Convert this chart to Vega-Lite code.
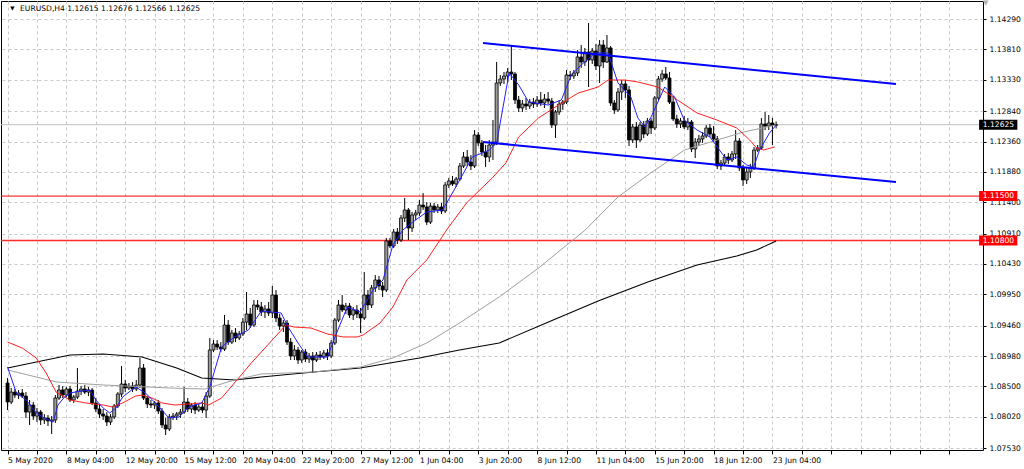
{
"$schema":"https://vega.github.io/schema/vega-lite/v6.json",
"autosize":{"type":"none"},
"padding":{"left":1,"top":1,"right":41,"bottom":19},
"width":982,"height":449,
"background":"#ffffff",
"config":{"view":{"stroke":"#000000","strokeWidth":1},"font":"DejaVu Sans"},
"datasets":{
"candles":[
{"i":0,"o":1.08555,"h":1.08634,"l":1.08129,"c":1.08255},{"i":1,"o":1.08255,"h":1.08476,"l":1.08224,"c":1.08412},{"i":2,"o":1.08412,"h":1.0846,"l":1.08318,"c":1.08365},{"i":3,"o":1.08365,"h":1.08444,"l":1.08302,"c":1.08397},{"i":4,"o":1.08397,"h":1.0846,"l":1.08318,"c":1.08349},{"i":5,"o":1.08349,"h":1.08412,"l":1.08003,"c":1.08097},{"i":6,"o":1.08097,"h":1.08287,"l":1.07893,"c":1.08208},{"i":7,"o":1.08208,"h":1.08255,"l":1.07972,"c":1.08034},{"i":8,"o":1.08034,"h":1.08161,"l":1.0794,"c":1.08097},{"i":9,"o":1.08097,"h":1.08129,"l":1.07893,"c":1.07972},
{"i":10,"o":1.07972,"h":1.08066,"l":1.07909,"c":1.08003},{"i":11,"o":1.08003,"h":1.0805,"l":1.07877,"c":1.07956},{"i":12,"o":1.07956,"h":1.08034,"l":1.07751,"c":1.07972},{"i":13,"o":1.07972,"h":1.08365,"l":1.07925,"c":1.08318},{"i":14,"o":1.08318,"h":1.08523,"l":1.08287,"c":1.08444},{"i":15,"o":1.08444,"h":1.08507,"l":1.08318,"c":1.08365},{"i":16,"o":1.08365,"h":1.08492,"l":1.08334,"c":1.0846},{"i":17,"o":1.0846,"h":1.08507,"l":1.08255,"c":1.08287},{"i":18,"o":1.08287,"h":1.08365,"l":1.0824,"c":1.08334},{"i":19,"o":1.08334,"h":1.08791,"l":1.08302,"c":1.08428},
{"i":20,"o":1.08428,"h":1.08507,"l":1.08365,"c":1.0846},{"i":21,"o":1.0846,"h":1.08523,"l":1.08381,"c":1.08412},{"i":22,"o":1.08412,"h":1.08492,"l":1.08349,"c":1.08444},{"i":23,"o":1.08444,"h":1.08476,"l":1.08208,"c":1.0824},{"i":24,"o":1.0824,"h":1.08318,"l":1.08097,"c":1.08145},{"i":25,"o":1.08145,"h":1.08224,"l":1.08003,"c":1.08066},{"i":26,"o":1.08066,"h":1.08145,"l":1.07972,"c":1.08034},{"i":27,"o":1.08034,"h":1.08097,"l":1.07877,"c":1.0794},{"i":28,"o":1.0794,"h":1.08066,"l":1.07893,"c":1.08019},{"i":29,"o":1.08019,"h":1.08224,"l":1.07987,"c":1.08192},
{"i":30,"o":1.08192,"h":1.08412,"l":1.08161,"c":1.08381},{"i":31,"o":1.08381,"h":1.08823,"l":1.08334,"c":1.08539},{"i":32,"o":1.08539,"h":1.08602,"l":1.08412,"c":1.08476},{"i":33,"o":1.08476,"h":1.08555,"l":1.08444,"c":1.08507},{"i":34,"o":1.08507,"h":1.0857,"l":1.08412,"c":1.0846},{"i":35,"o":1.0846,"h":1.08602,"l":1.08428,"c":1.08523},{"i":36,"o":1.08523,"h":1.08949,"l":1.08476,"c":1.08791},{"i":37,"o":1.08791,"h":1.08854,"l":1.08287,"c":1.08318},{"i":38,"o":1.08318,"h":1.08349,"l":1.08161,"c":1.08224},{"i":39,"o":1.08224,"h":1.08287,"l":1.08161,"c":1.08208},
{"i":40,"o":1.08208,"h":1.08271,"l":1.08145,"c":1.0824},{"i":41,"o":1.0824,"h":1.08287,"l":1.08066,"c":1.08113},{"i":42,"o":1.08113,"h":1.08161,"l":1.07846,"c":1.07893},{"i":43,"o":1.07893,"h":1.08003,"l":1.07735,"c":1.0783},{"i":44,"o":1.0783,"h":1.08066,"l":1.07798,"c":1.08019},{"i":45,"o":1.08019,"h":1.08082,"l":1.07972,"c":1.08034},{"i":46,"o":1.08034,"h":1.08097,"l":1.07972,"c":1.08066},{"i":47,"o":1.08066,"h":1.08145,"l":1.08003,"c":1.08097},{"i":48,"o":1.08097,"h":1.08492,"l":1.08066,"c":1.08255},{"i":49,"o":1.08255,"h":1.08318,"l":1.08097,"c":1.08145},
{"i":50,"o":1.08145,"h":1.0824,"l":1.08082,"c":1.08208},{"i":51,"o":1.08208,"h":1.08255,"l":1.08066,"c":1.08129},{"i":52,"o":1.08129,"h":1.08224,"l":1.08097,"c":1.08177},{"i":53,"o":1.08177,"h":1.08255,"l":1.08082,"c":1.08129},{"i":54,"o":1.08129,"h":1.08412,"l":1.08003,"c":1.08349},{"i":55,"o":1.08349,"h":1.09264,"l":1.08318,"c":1.09075},{"i":56,"o":1.09075,"h":1.09232,"l":1.09043,"c":1.09169},{"i":57,"o":1.09169,"h":1.09232,"l":1.09075,"c":1.09122},{"i":58,"o":1.09122,"h":1.092,"l":1.09043,"c":1.0909},{"i":59,"o":1.0909,"h":1.09626,"l":1.09059,"c":1.09468},
{"i":60,"o":1.09468,"h":1.09547,"l":1.09153,"c":1.092},{"i":61,"o":1.092,"h":1.0939,"l":1.09169,"c":1.09343},{"i":62,"o":1.09343,"h":1.09421,"l":1.092,"c":1.09264},{"i":63,"o":1.09264,"h":1.09374,"l":1.09232,"c":1.09327},{"i":64,"o":1.09327,"h":1.09579,"l":1.09295,"c":1.09515},{"i":65,"o":1.09515,"h":1.09988,"l":1.0939,"c":1.09642},{"i":66,"o":1.09642,"h":1.09737,"l":1.09421,"c":1.09468},{"i":67,"o":1.09468,"h":1.09863,"l":1.09437,"c":1.09784},{"i":68,"o":1.09784,"h":1.09863,"l":1.09705,"c":1.09753},{"i":69,"o":1.09753,"h":1.09831,"l":1.0961,"c":1.09673},
{"i":70,"o":1.09673,"h":1.09784,"l":1.09579,"c":1.09721},{"i":71,"o":1.09721,"h":1.09831,"l":1.0961,"c":1.09658},{"i":72,"o":1.09658,"h":1.10083,"l":1.09579,"c":1.09941},{"i":73,"o":1.09941,"h":1.1002,"l":1.09515,"c":1.09579},{"i":74,"o":1.09579,"h":1.09642,"l":1.0939,"c":1.09452},{"i":75,"o":1.09452,"h":1.09547,"l":1.09358,"c":1.095},{"i":76,"o":1.095,"h":1.09547,"l":1.09153,"c":1.092},{"i":77,"o":1.092,"h":1.09264,"l":1.08917,"c":1.0898},{"i":78,"o":1.0898,"h":1.09153,"l":1.08917,"c":1.09075},{"i":79,"o":1.09075,"h":1.09122,"l":1.08854,"c":1.08917},
{"i":80,"o":1.08917,"h":1.09075,"l":1.0887,"c":1.09043},{"i":81,"o":1.09043,"h":1.0909,"l":1.08885,"c":1.08933},{"i":82,"o":1.08933,"h":1.09028,"l":1.0887,"c":1.0898},{"i":83,"o":1.0898,"h":1.09043,"l":1.08713,"c":1.08917},{"i":84,"o":1.08917,"h":1.09043,"l":1.08885,"c":1.08996},{"i":85,"o":1.08996,"h":1.09059,"l":1.08917,"c":1.08965},{"i":86,"o":1.08965,"h":1.09075,"l":1.08933,"c":1.09028},{"i":87,"o":1.09028,"h":1.0909,"l":1.08917,"c":1.0898},{"i":88,"o":1.0898,"h":1.09232,"l":1.08949,"c":1.09185},{"i":89,"o":1.09185,"h":1.09579,"l":1.09153,"c":1.09547},
{"i":90,"o":1.09547,"h":1.09863,"l":1.09515,"c":1.09784},{"i":91,"o":1.09784,"h":1.09941,"l":1.09673,"c":1.09705},{"i":92,"o":1.09705,"h":1.09816,"l":1.09642,"c":1.09768},{"i":93,"o":1.09768,"h":1.09816,"l":1.09579,"c":1.09626},{"i":94,"o":1.09626,"h":1.09753,"l":1.09547,"c":1.09705},{"i":95,"o":1.09705,"h":1.09784,"l":1.09579,"c":1.09642},{"i":96,"o":1.09642,"h":1.09737,"l":1.09343,"c":1.09579},{"i":97,"o":1.09579,"h":1.10304,"l":1.09547,"c":1.09941},{"i":98,"o":1.09941,"h":1.1002,"l":1.09705,"c":1.09784},{"i":99,"o":1.09784,"h":1.10099,"l":1.09737,"c":1.10052},
{"i":100,"o":1.10052,"h":1.10256,"l":1.09988,"c":1.10178},{"i":101,"o":1.10178,"h":1.10241,"l":1.1002,"c":1.10083},{"i":102,"o":1.10083,"h":1.10146,"l":1.0991,"c":1.1002},{"i":103,"o":1.1002,"h":1.1084,"l":1.09988,"c":1.10792},{"i":104,"o":1.10792,"h":1.1084,"l":1.10682,"c":1.10713},{"i":105,"o":1.10713,"h":1.10982,"l":1.10682,"c":1.10934},{"i":106,"o":1.10934,"h":1.10997,"l":1.10745,"c":1.10808},{"i":107,"o":1.10808,"h":1.11202,"l":1.10776,"c":1.11155},{"i":108,"o":1.11155,"h":1.1147,"l":1.11091,"c":1.11281},{"i":109,"o":1.11281,"h":1.11312,"l":1.10808,"c":1.10997},
{"i":110,"o":1.10997,"h":1.11249,"l":1.10934,"c":1.11202},{"i":111,"o":1.11202,"h":1.11281,"l":1.11123,"c":1.11234},{"i":112,"o":1.11234,"h":1.11438,"l":1.11186,"c":1.11359},{"i":113,"o":1.11359,"h":1.11549,"l":1.11281,"c":1.11328},{"i":114,"o":1.11328,"h":1.11406,"l":1.11044,"c":1.11091},{"i":115,"o":1.11091,"h":1.11391,"l":1.1106,"c":1.11343},{"i":116,"o":1.11343,"h":1.11391,"l":1.11234,"c":1.11281},{"i":117,"o":1.11281,"h":1.11375,"l":1.11234,"c":1.11328},{"i":118,"o":1.11328,"h":1.11391,"l":1.11218,"c":1.11265},{"i":119,"o":1.11265,"h":1.11722,"l":1.11234,"c":1.11675},
{"i":120,"o":1.11675,"h":1.11785,"l":1.11628,"c":1.11738},{"i":121,"o":1.11738,"h":1.11816,"l":1.11659,"c":1.11691},{"i":122,"o":1.11691,"h":1.11801,"l":1.11644,"c":1.11769},{"i":123,"o":1.11769,"h":1.12021,"l":1.11738,"c":1.11974},{"i":124,"o":1.11974,"h":1.12194,"l":1.11943,"c":1.12116},{"i":125,"o":1.12116,"h":1.12226,"l":1.11974,"c":1.12037},{"i":126,"o":1.12037,"h":1.12147,"l":1.11911,"c":1.11974},{"i":127,"o":1.11974,"h":1.12541,"l":1.11943,"c":1.12463},{"i":128,"o":1.12463,"h":1.1251,"l":1.12289,"c":1.12337},{"i":129,"o":1.12337,"h":1.12384,"l":1.12132,"c":1.12194},
{"i":130,"o":1.12194,"h":1.12305,"l":1.11959,"c":1.12116},{"i":131,"o":1.12116,"h":1.12384,"l":1.12037,"c":1.12305},{"i":132,"o":1.12305,"h":1.12699,"l":1.12069,"c":1.12352},{"i":133,"o":1.12352,"h":1.13613,"l":1.12305,"c":1.13282},{"i":134,"o":1.13282,"h":1.13408,"l":1.13235,"c":1.13345},{"i":135,"o":1.13345,"h":1.13455,"l":1.13266,"c":1.13392},{"i":136,"o":1.13392,"h":1.13519,"l":1.13298,"c":1.13455},{"i":137,"o":1.13455,"h":1.13881,"l":1.13329,"c":1.13424},{"i":138,"o":1.13424,"h":1.13455,"l":1.12951,"c":1.13014},{"i":139,"o":1.13014,"h":1.13077,"l":1.12825,"c":1.12888},
{"i":140,"o":1.12888,"h":1.13014,"l":1.12825,"c":1.12951},{"i":141,"o":1.12951,"h":1.13046,"l":1.12857,"c":1.12919},{"i":142,"o":1.12919,"h":1.1303,"l":1.12872,"c":1.12982},{"i":143,"o":1.12982,"h":1.13046,"l":1.12888,"c":1.12951},{"i":144,"o":1.12951,"h":1.13077,"l":1.12904,"c":1.13014},{"i":145,"o":1.13014,"h":1.1314,"l":1.12919,"c":1.12967},{"i":146,"o":1.12967,"h":1.13109,"l":1.12888,"c":1.1303},{"i":147,"o":1.1303,"h":1.1314,"l":1.12951,"c":1.12998},{"i":148,"o":1.12998,"h":1.13046,"l":1.12573,"c":1.1262},{"i":149,"o":1.1262,"h":1.12857,"l":1.12415,"c":1.12825},
{"i":150,"o":1.12825,"h":1.13014,"l":1.12778,"c":1.12951},{"i":151,"o":1.12951,"h":1.13014,"l":1.12857,"c":1.12982},{"i":152,"o":1.12982,"h":1.13487,"l":1.12951,"c":1.13408},{"i":153,"o":1.13408,"h":1.13471,"l":1.13329,"c":1.13392},{"i":154,"o":1.13392,"h":1.13487,"l":1.13345,"c":1.1344},{"i":155,"o":1.1344,"h":1.13802,"l":1.13392,"c":1.13692},{"i":156,"o":1.13692,"h":1.13881,"l":1.13519,"c":1.13613},{"i":157,"o":1.13613,"h":1.13834,"l":1.1355,"c":1.1377},{"i":158,"o":1.1377,"h":1.14228,"l":1.13219,"c":1.13645},{"i":159,"o":1.13645,"h":1.13834,"l":1.13582,"c":1.13786},
{"i":160,"o":1.13786,"h":1.13897,"l":1.13487,"c":1.1355},{"i":161,"o":1.1355,"h":1.1396,"l":1.13282,"c":1.13881},{"i":162,"o":1.13881,"h":1.1396,"l":1.13519,"c":1.13613},{"i":163,"o":1.13613,"h":1.14038,"l":1.13597,"c":1.13834},{"i":164,"o":1.13834,"h":1.13865,"l":1.12919,"c":1.12967},{"i":165,"o":1.12967,"h":1.13014,"l":1.12794,"c":1.12857},{"i":166,"o":1.12857,"h":1.13203,"l":1.12825,"c":1.1314},{"i":167,"o":1.1314,"h":1.13329,"l":1.13014,"c":1.13266},{"i":168,"o":1.13266,"h":1.13329,"l":1.13046,"c":1.13172},{"i":169,"o":1.13172,"h":1.13235,"l":1.12289,"c":1.12384},
{"i":170,"o":1.12384,"h":1.12636,"l":1.12337,"c":1.12589},{"i":171,"o":1.12589,"h":1.12667,"l":1.12258,"c":1.12384},{"i":172,"o":1.12384,"h":1.12667,"l":1.12352,"c":1.1262},{"i":173,"o":1.1262,"h":1.12683,"l":1.12415,"c":1.12478},{"i":174,"o":1.12478,"h":1.1273,"l":1.12447,"c":1.12683},{"i":175,"o":1.12683,"h":1.1273,"l":1.12478,"c":1.12573},{"i":176,"o":1.12573,"h":1.13077,"l":1.12541,"c":1.13046},{"i":177,"o":1.13046,"h":1.13392,"l":1.13014,"c":1.13345},{"i":178,"o":1.13345,"h":1.13487,"l":1.13298,"c":1.13424},{"i":179,"o":1.13424,"h":1.13534,"l":1.13329,"c":1.13361},
{"i":180,"o":1.13361,"h":1.13455,"l":1.12951,"c":1.12982},{"i":181,"o":1.12982,"h":1.13077,"l":1.12683,"c":1.12715},{"i":182,"o":1.12715,"h":1.12778,"l":1.12573,"c":1.12636},{"i":183,"o":1.12636,"h":1.1273,"l":1.12573,"c":1.12683},{"i":184,"o":1.12683,"h":1.12762,"l":1.12557,"c":1.12589},{"i":185,"o":1.12589,"h":1.1273,"l":1.12541,"c":1.12667},{"i":186,"o":1.12667,"h":1.12699,"l":1.12194,"c":1.12242},{"i":187,"o":1.12242,"h":1.12415,"l":1.121,"c":1.12352},{"i":188,"o":1.12352,"h":1.12463,"l":1.12289,"c":1.124},{"i":189,"o":1.124,"h":1.1251,"l":1.12337,"c":1.12447},
{"i":190,"o":1.12447,"h":1.1262,"l":1.12415,"c":1.12573},{"i":191,"o":1.12573,"h":1.12636,"l":1.12431,"c":1.12478},{"i":192,"o":1.12478,"h":1.12604,"l":1.12352,"c":1.124},{"i":193,"o":1.124,"h":1.12447,"l":1.11927,"c":1.11974},{"i":194,"o":1.11974,"h":1.12069,"l":1.11911,"c":1.12021},{"i":195,"o":1.12021,"h":1.12163,"l":1.11974,"c":1.12116},{"i":196,"o":1.12116,"h":1.12179,"l":1.12006,"c":1.12069},{"i":197,"o":1.12069,"h":1.1221,"l":1.12037,"c":1.12163},{"i":198,"o":1.12163,"h":1.12541,"l":1.12084,"c":1.12368},{"i":199,"o":1.12368,"h":1.12415,"l":1.11895,"c":1.11943},
{"i":200,"o":1.11943,"h":1.1199,"l":1.11659,"c":1.11754},{"i":201,"o":1.11754,"h":1.11943,"l":1.11691,"c":1.1188},{"i":202,"o":1.1188,"h":1.12006,"l":1.11785,"c":1.11943},{"i":203,"o":1.11943,"h":1.12273,"l":1.11911,"c":1.12226},{"i":204,"o":1.12226,"h":1.12305,"l":1.12194,"c":1.12258},{"i":205,"o":1.12258,"h":1.1273,"l":1.12226,"c":1.12636},{"i":206,"o":1.12636,"h":1.12825,"l":1.12541,"c":1.12604},{"i":207,"o":1.12604,"h":1.12778,"l":1.12541,"c":1.12652},{"i":208,"o":1.12652,"h":1.1273,"l":1.12305,"c":1.12615},{"i":209,"o":1.12615,"h":1.12676,"l":1.12566,"c":1.12625}
],
"blue":[
{"i":0,"p":1.08807},{"i":2.4,"p":1.08397},{"i":5.1,"p":1.08287},{"i":7.8,"p":1.08082},{"i":10,"p":1.08003},{"i":12.4,"p":1.0794},{"i":13.7,"p":1.08208},{"i":15.5,"p":1.08334},{"i":17,"p":1.08397},{"i":20,"p":1.08428},{"i":22.4,"p":1.08444},{"i":24,"p":1.08287},{"i":26,"p":1.08161},{"i":27.8,"p":1.08082},{"i":29.5,"p":1.08161},{"i":31.3,"p":1.08334},{"i":34.8,"p":1.08492},{"i":37.5,"p":1.08397},{"i":40.2,"p":1.0824},{"i":43.9,"p":1.08003},{"i":46.6,"p":1.08019},{"i":49.3,"p":1.08177},{"i":52.8,"p":1.0824},{"i":55,"p":1.08492},{"i":58.2,"p":1.09122},{"i":61.7,"p":1.0928},{"i":65.5,"p":1.0939},{"i":69,"p":1.09689},{"i":74.4,"p":1.09658},{"i":76.3,"p":1.09437},{"i":79,"p":1.09185},{"i":81.6,"p":1.08965},{"i":87,"p":1.08965},{"i":88.7,"p":1.09232},{"i":92.4,"p":1.09753},{"i":95.9,"p":1.09673},{"i":99.4,"p":1.1002},{"i":102.1,"p":1.10178},{"i":104.8,"p":1.10729},{"i":107.5,"p":1.10966},{"i":110.2,"p":1.11091},{"i":114,"p":1.11249},{"i":118.3,"p":1.11281},{"i":120.2,"p":1.1147},{"i":122.5,"p":1.11706},{"i":126.4,"p":1.12116},{"i":131,"p":1.12226},{"i":133,"p":1.12337},{"i":136.4,"p":1.1344},{"i":139,"p":1.13251},{"i":141.7,"p":1.12982},{"i":147,"p":1.12935},{"i":150.6,"p":1.13014},{"i":153.3,"p":1.13408},{"i":156,"p":1.13566},{"i":159.8,"p":1.13755},{"i":163.3,"p":1.13755},{"i":166,"p":1.13282},{"i":169.5,"p":1.13061},{"i":171.4,"p":1.12731},{"i":173.3,"p":1.12589},{"i":175,"p":1.12746},{"i":178.7,"p":1.13219},{"i":181.4,"p":1.13061},{"i":184,"p":1.12699},{"i":187.5,"p":1.12541},{"i":191,"p":1.12431},{"i":193,"p":1.12273},{"i":195.6,"p":1.12069},{"i":198.3,"p":1.12116},{"i":201,"p":1.1199},{"i":202.9,"p":1.11959},{"i":204.5,"p":1.12226},{"i":207.2,"p":1.12494},{"i":209,"p":1.1262}
],
"red":[
{"i":0,"p":1.092},{"i":4,"p":1.09106},{"i":7.8,"p":1.08949},{"i":10.5,"p":1.08712},{"i":13.2,"p":1.08412},{"i":17,"p":1.08287},{"i":21.3,"p":1.0824},{"i":26,"p":1.08208},{"i":28.5,"p":1.08177},{"i":31.3,"p":1.0824},{"i":34.8,"p":1.08349},{"i":36.6,"p":1.08365},{"i":39.3,"p":1.08318},{"i":42,"p":1.0824},{"i":45.5,"p":1.08208},{"i":52.8,"p":1.0824},{"i":54.7,"p":1.08208},{"i":58.2,"p":1.08318},{"i":61.7,"p":1.08555},{"i":66.3,"p":1.0887},{"i":69,"p":1.09043},{"i":75.7,"p":1.09468},{"i":77.9,"p":1.09437},{"i":82.5,"p":1.09421},{"i":87,"p":1.09327},{"i":91.3,"p":1.0928},{"i":95.1,"p":1.0928},{"i":96.7,"p":1.09311},{"i":98.6,"p":1.0939},{"i":101.3,"p":1.095},{"i":104.8,"p":1.09753},{"i":108.6,"p":1.10178},{"i":114,"p":1.10493},{"i":119.4,"p":1.10966},{"i":124.8,"p":1.11391},{"i":129,"p":1.11628},{"i":131.8,"p":1.11785},{"i":135.5,"p":1.12021},{"i":139,"p":1.12431},{"i":144.4,"p":1.12731},{"i":149.8,"p":1.12935},{"i":155.2,"p":1.13124},{"i":160.6,"p":1.13219},{"i":163.3,"p":1.13329},{"i":167.9,"p":1.13329},{"i":171.4,"p":1.13298},{"i":176.8,"p":1.13219},{"i":182.2,"p":1.13014},{"i":187.5,"p":1.12809},{"i":192.9,"p":1.12699},{"i":198.3,"p":1.12573},{"i":201.8,"p":1.12384},{"i":203.7,"p":1.12258},{"i":205.6,"p":1.12226},{"i":208.6,"p":1.12274}
],
"gray":[
{"i":0,"p":1.0876},{"i":13.4,"p":1.0857},{"i":26,"p":1.08523},{"i":44,"p":1.08476},{"i":53.6,"p":1.0846},{"i":61.7,"p":1.08602},{"i":69,"p":1.08697},{"i":83.3,"p":1.08728},{"i":95.9,"p":1.08807},{"i":104.8,"p":1.08949},{"i":114,"p":1.09185},{"i":122.9,"p":1.095},{"i":133.7,"p":1.0991},{"i":144.4,"p":1.10367},{"i":157.1,"p":1.10966},{"i":166,"p":1.11486},{"i":174.9,"p":1.11864},{"i":184.1,"p":1.12226},{"i":193,"p":1.12384},{"i":200.2,"p":1.1251},{"i":209,"p":1.1262}
],
"black":[
{"i":0,"p":1.08791},{"i":17,"p":1.08996},{"i":26,"p":1.09012},{"i":36.6,"p":1.08965},{"i":46,"p":1.08791},{"i":52.8,"p":1.08634},{"i":61.7,"p":1.08602},{"i":69,"p":1.08649},{"i":83.3,"p":1.08728},{"i":95.9,"p":1.08791},{"i":112,"p":1.08949},{"i":122.9,"p":1.09075},{"i":133.7,"p":1.09185},{"i":147.1,"p":1.09515},{"i":160.6,"p":1.09847},{"i":174.1,"p":1.10146},{"i":187.5,"p":1.10414},{"i":198.3,"p":1.10556},{"i":203.7,"p":1.10651},{"i":209,"p":1.10792}
],
"channel":[
{"line":"upper","i":129.3,"p":1.13912},{"line":"upper","i":241.6,"p":1.13266},{"line":"lower","i":129.3,"p":1.12352},{"line":"lower","i":241.6,"p":1.11722}
],
"level1":[{"p":1.115}],
"level2":[{"p":1.108}],
"bid":[{"p":1.12625}],
"tags":[{"p":1.12625,"t":"1.12625","kind":"bid"},{"p":1.115,"t":"1.11500","kind":"level"},{"p":1.108,"t":"1.10800","kind":"level"}],
"head":[{"t":"EURUSD,H4  1.12615 1.12676 1.12566 1.12625"}],
"arrow":[{"t":"▼"}],
"shift":[{"t":"▼"}]
},
"layer":[
{"data":{"name":"bid"},"mark":{"type":"rule","color":"#c0c0c0","strokeWidth":1},
 "encoding":{"y":{"field":"p","type":"quantitative","title":null,"scale":{"domain":[1.07499,1.14574],"nice":false,"zero":false}}}},
{"data":{"name":"level1"},"mark":{"type":"rule","color":"#ff0000","strokeWidth":1},
 "encoding":{"y":{"field":"p","type":"quantitative","title":null}}},
{"data":{"name":"level2"},"mark":{"type":"rule","color":"#ff2a2a","strokeWidth":1.6},
 "encoding":{"y":{"field":"p","type":"quantitative","title":null}}},
{"data":{"name":"candles"},"mark":{"type":"rule","color":"#000000","strokeWidth":1},
 "encoding":{
  "x":{"field":"i","type":"quantitative","title":null,"scale":{"domain":[-0.42,263.9],"nice":false,"zero":false},
   "axis":{"values":[0,8,16,24,32,40,48,56,64,72,80,88,96,104,112,120,128,136,144,152,160,168,176,184,192,200,208,216,224,232,240,248,256],
    "tickCount":60,
    "labelExpr":"['5 May 2020','8 May 04:00','12 May 20:00','15 May 12:00','20 May 04:00','22 May 20:00','27 May 12:00','1 Jun 04:00','3 Jun 20:00','8 Jun 12:00','11 Jun 04:00','15 Jun 20:00','18 Jun 12:00','23 Jun 04:00'][datum.value/16] || ''",
    "grid":true,"gridColor":"#c8c8c8","gridDash":[3,3],"gridWidth":1,"domain":false,"tickColor":"#000000","tickSize":4,
    "labelAlign":"left","labelBaseline":"top","labelPadding":2,"labelFont":"DejaVu Sans","labelFontSize":7.6,"labelColor":"#000000",
    "labelOverlap":false,"labelBound":false,"labelFlush":false}},
  "y":{"field":"l","type":"quantitative","title":null,"scale":{"domain":[1.07499,1.14574],"nice":false,"zero":false},
   "axis":{"orient":"right","values":[1.0753,1.0802,1.085,1.0898,1.0946,1.0995,1.1043,1.1091,1.114,1.1188,1.1236,1.1284,1.1333,1.1381,1.1429],
    "tickCount":40,
    "format":".5f","grid":true,"gridColor":"#c8c8c8","gridDash":[3,3],"gridWidth":1,"domain":false,"tickColor":"#000000","tickSize":3,
    "labelPadding":3,"labelFont":"DejaVu Sans","labelFontSize":7.6,"labelColor":"#000000","labelOverlap":false,"labelBound":false,"labelFlush":false}},
  "y2":{"field":"h"}}},
{"data":{"name":"candles"},"mark":{"type":"bar","width":3,"stroke":"#000000","strokeWidth":0.8},
 "encoding":{
  "x":{"field":"i","type":"quantitative","title":null},
  "y":{"field":"o","type":"quantitative","title":null},
  "y2":{"field":"c"},
  "fill":{"condition":{"test":"datum.c >= datum.o","value":"#9c9c9c"},"value":"#000000"}}},
{"data":{"name":"black"},"mark":{"type":"line","color":"#000000","strokeWidth":1.1},
 "encoding":{"x":{"field":"i","type":"quantitative","title":null},"y":{"field":"p","type":"quantitative","title":null}}},
{"data":{"name":"gray"},"mark":{"type":"line","color":"#a0a0a0","strokeWidth":1},
 "encoding":{"x":{"field":"i","type":"quantitative","title":null},"y":{"field":"p","type":"quantitative","title":null}}},
{"data":{"name":"red"},"mark":{"type":"line","color":"#ff2020","strokeWidth":1},
 "encoding":{"x":{"field":"i","type":"quantitative","title":null},"y":{"field":"p","type":"quantitative","title":null}}},
{"data":{"name":"blue"},"mark":{"type":"line","color":"#2020ff","strokeWidth":1},
 "encoding":{"x":{"field":"i","type":"quantitative","title":null},"y":{"field":"p","type":"quantitative","title":null}}},
{"data":{"name":"channel"},"mark":{"type":"line","color":"#0000ff","strokeWidth":2},
 "encoding":{"x":{"field":"i","type":"quantitative","title":null},"y":{"field":"p","type":"quantitative","title":null},"detail":{"field":"line"}}},
{"data":{"name":"tags"},"mark":{"type":"rect","yOffset":-5,"y2Offset":5},
 "encoding":{"x":{"datum":264.2,"type":"quantitative"},"x2":{"datum":274.6},
  "y":{"field":"p","type":"quantitative","title":null},"y2":{"field":"p"},
  "fill":{"field":"kind","type":"nominal","legend":null,"scale":{"domain":["bid","level"],"range":["#000000","#ff0000"]}}}},
{"data":{"name":"tags"},"mark":{"type":"text","align":"left","baseline":"middle","color":"#ffffff","font":"DejaVu Sans","fontSize":7.6},
 "encoding":{"x":{"datum":265.2,"type":"quantitative"},"y":{"field":"p","type":"quantitative","title":null},"text":{"field":"t"}}},
{"data":{"name":"shift"},"mark":{"type":"text","align":"center","baseline":"middle","color":"#b0b0b0","font":"DejaVu Sans","fontSize":7},
 "encoding":{"x":{"datum":266.0,"type":"quantitative"},"y":{"datum":1.14545,"type":"quantitative"},"text":{"field":"t"}}},
{"data":{"name":"arrow"},"mark":{"type":"text","align":"center","baseline":"middle","color":"#000000","font":"DejaVu Sans","fontSize":5.5},
 "encoding":{"x":{"datum":1.3,"type":"quantitative"},"y":{"datum":1.1446,"type":"quantitative"},"text":{"field":"t"}}},
{"data":{"name":"head"},"mark":{"type":"text","align":"left","baseline":"middle","color":"#000000","font":"DejaVu Sans","fontSize":7.6},
 "encoding":{"x":{"datum":3.4,"type":"quantitative"},"y":{"datum":1.14448,"type":"quantitative"},"text":{"field":"t"}}}
]
}
